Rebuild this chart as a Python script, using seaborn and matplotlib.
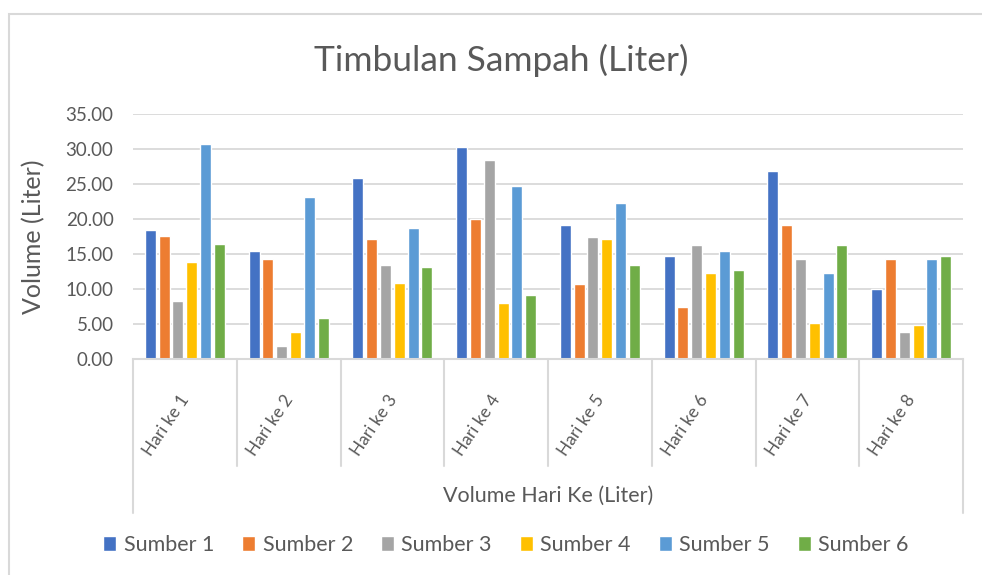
import numpy as np
import pandas as pd
import matplotlib
matplotlib.use("Agg")
import matplotlib.pyplot as plt
import seaborn as sns
from matplotlib.patches import Rectangle

# data
hari = ["Hari ke 1", "Hari ke 2", "Hari ke 3", "Hari ke 4",
        "Hari ke 5", "Hari ke 6", "Hari ke 7", "Hari ke 8"]
sumber = ["Sumber 1", "Sumber 2", "Sumber 3", "Sumber 4", "Sumber 5", "Sumber 6"]
sumber1 = [18.4, 15.5, 25.8, 30.3, 19.1, 14.7, 26.8, 10.0]
sumber2 = [17.6, 14.3, 17.1, 20.0, 10.7, 7.5, 19.1, 14.3]
sumber3 = [8.3, 1.9, 13.5, 28.4, 17.5, 16.3, 14.3, 3.9]
sumber4 = [13.9, 3.9, 10.8, 8.0, 17.1, 12.3, 5.1, 4.8]
sumber5 = [30.7, 23.1, 18.7, 24.7, 22.3, 15.5, 12.3, 14.3]
sumber6 = [16.4, 5.9, 13.1, 9.1, 13.5, 12.7, 16.3, 14.7]
yticks = [0, 5, 10, 15, 20, 25, 30, 35]

warna = ["#4472C4", "#ED7D31", "#A5A5A5", "#FFC000", "#5B9BD5", "#70AD47"]
abu = "#595959"
garis = "#D9D9D9"

rows = []
for nama, vals in zip(sumber, [sumber1, sumber2, sumber3, sumber4, sumber5, sumber6]):
    for h, v in zip(hari, vals):
        rows.append({"hari": h, "sumber": nama, "volume": v})
df = pd.DataFrame(rows)

sns.set_style("white")
plt.rcParams["font.family"] = ["Lato", "DejaVu Sans"]

fig = plt.figure(figsize=(9.82, 5.75), dpi=100)
ax = fig.add_axes([133/982, 1-359/575, 830/982, 245/575])

sns.barplot(data=df, x="hari", y="volume", hue="sumber", order=hari,
            hue_order=sumber, palette=warna, width=0.8, gap=0.2,
            saturation=1, errorbar=None, ax=ax)

ax.set_ylim(0, 35)
ax.set_xlim(-0.5, len(hari) - 0.5)
ax.set_yticks(yticks)
ax.set_yticklabels([f"{t:.2f}" for t in yticks], color=abu, fontsize=13.5)
ax.tick_params(axis="y", length=0, pad=14)
ax.yaxis.grid(True, color=garis, lw=1.3)
ax.set_axisbelow(True)
for s in ["left", "right", "top"]:
    ax.spines[s].set_visible(False)
ax.spines["bottom"].set_color(garis)
ax.spines["bottom"].set_linewidth(1.5)

# category labels, excel style
ax.set_xticks([])
ax.set_xlabel("")
tr = ax.get_xaxis_transform()
for i, h in enumerate(hari):
    ax.text(i + 0.01, -0.155, h, transform=tr, rotation=56, rotation_mode="anchor",
            ha="right", va="center", fontsize=12.5, color=abu)
for i in range(len(hari) + 1):
    bawah = -0.63 if i in (0, len(hari)) else -0.437
    ax.plot([i - 0.5, i - 0.5], [0, bawah], transform=tr, color=garis,
            lw=1.5, clip_on=False)
ax.text(0.5, -0.559, "Volume Hari Ke (Liter)", transform=ax.transAxes,
        ha="center", va="center", fontsize=15.5, color=abu)

ax.set_ylabel("Volume (Liter)", fontsize=18, color=abu)
ax.yaxis.set_label_coords(-0.106, 0.5)

fig.text(501/982, 1-60/575, "Timbulan Sampah (Liter)", ha="center", va="center",
         fontsize=25.5, color=abu)

h_, l_ = ax.get_legend_handles_labels()
ax.legend(h_, l_, ncol=6, loc="center", bbox_to_anchor=(506/982, 1-545/575),
          bbox_transform=fig.transFigure, frameon=False, fontsize=15.5,
          labelcolor=abu, handlelength=0.6, handleheight=0.75,
          handletextpad=0.35, columnspacing=1.3)

fig.patches.append(Rectangle((9/982, -0.1), 1.2, 1 - 14/575 + 0.1,
                             transform=fig.transFigure, fill=False,
                             edgecolor=garis, lw=1.5))

fig.savefig("out.png", dpi=100)
